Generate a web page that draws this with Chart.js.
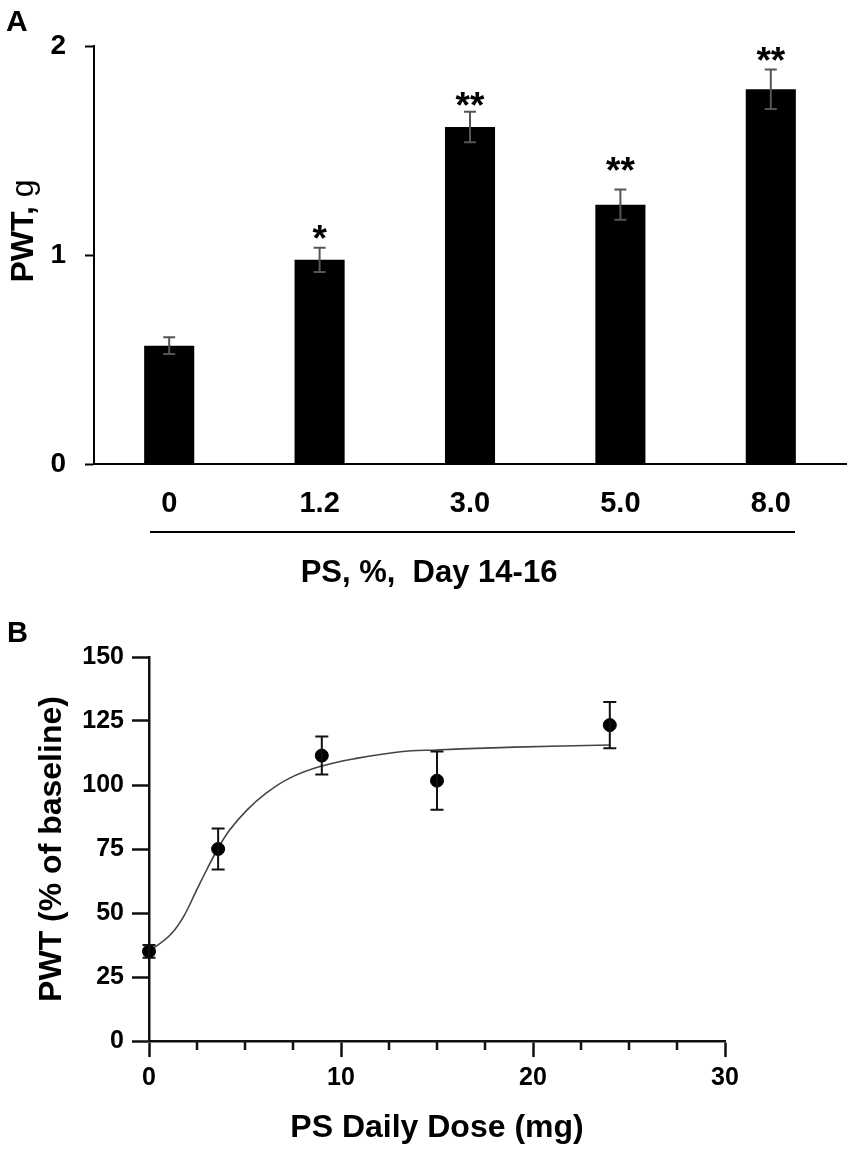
<!DOCTYPE html>
<html>
<head>
<meta charset="utf-8">
<script src="https://cdn.jsdelivr.net/npm/chart.js@4.4.1/dist/chart.umd.min.js"></script>
<style>
  html, body { margin: 0; padding: 0; background: #fff; }
  body { width: 853px; height: 1158px; position: relative; overflow: hidden; }
  .panel { position: absolute; left: 0; width: 853px; }
  #wrapA { top: 0; height: 600px; }
  #wrapB { top: 600px; height: 558px; }
</style>
</head>
<body>
<div class="panel" id="wrapA"><canvas id="chartA" width="853" height="600"></canvas></div>
<div class="panel" id="wrapB"><canvas id="chartB" width="853" height="558"></canvas></div>
<script>
// --- Panel A data (PWT by PS concentration) ---
const doseLabels = ["0", "1.2", "3.0", "5.0", "8.0"];
const pwtMeans = [0.566, 0.977, 1.612, 1.241, 1.793];
const pwtErrors = [0.04, 0.058, 0.073, 0.072, 0.095];
const sigMarks = ["", "*", "**", "**", "**"];
const sigLevels = [null, 1.12, 1.756, 1.445, 1.97]; // where the stars sit, in g

// --- Panel B data (dose response) ---
const dailyDose = [0, 3.6, 9, 15, 24];
const pwtPercent = [35, 75, 111.5, 101.7, 123.4];
const pwtPercentErr = [2.5, 8, 7.4, 11.4, 9];
// fitted curve
const fitDose = [0, 1.1, 1.8, 2.4, 3.0, 3.6, 4.2, 5.1, 6.1, 7.3, 8.9, 10.8, 13.1, 15, 19, 24];
const fitPwt = [35, 41.4, 48.6, 57.7, 66.8, 75.3, 82.4, 90.2, 96.8, 102.6, 107.2, 110.4, 113.0, 113.7, 114.8, 115.6];

const FONT = "'Liberation Sans', Arial, Helvetica, sans-serif";
Chart.defaults.font.family = FONT;
Chart.defaults.color = "#000";

// --- Panel A: error bars, stars, titles ---
const panelAExtras = {
  id: "panelAExtras",
  afterDatasetsDraw(chart) {
    const { ctx, scales: { x, y } } = chart;
    ctx.save();
    ctx.strokeStyle = "#555";
    ctx.lineWidth = 2;
    pwtMeans.forEach((m, i) => {
      const px = x.getPixelForValue(i);
      const top = y.getPixelForValue(m + pwtErrors[i]);
      const bot = y.getPixelForValue(m - pwtErrors[i]);
      ctx.beginPath();
      ctx.moveTo(px, top); ctx.lineTo(px, bot);
      ctx.moveTo(px - 6, top); ctx.lineTo(px + 6, top);
      ctx.moveTo(px - 6, bot); ctx.lineTo(px + 6, bot);
      ctx.stroke();
    });

    ctx.fillStyle = "#000";
    ctx.font = "bold 37px " + FONT;
    ctx.textAlign = "center";
    ctx.textBaseline = "alphabetic";
    sigMarks.forEach((s, i) => {
      if (!s) return;
      const px = x.getPixelForValue(i);
      const cy = y.getPixelForValue(sigLevels[i]);
      ctx.fillText(s, px, cy + 21);
    });
    ctx.restore();
  },
  afterDraw(chart) {
    const { ctx } = chart;
    ctx.save();
    ctx.fillStyle = "#000";
    ctx.strokeStyle = "#000";

    // panel letter
    ctx.font = "bold 30px " + FONT;
    ctx.textAlign = "left";
    ctx.textBaseline = "alphabetic";
    ctx.fillText("A", 6, 31);

    // line under the category labels
    ctx.lineWidth = 2;
    ctx.beginPath();
    ctx.moveTo(150, 532);
    ctx.lineTo(795, 532);
    ctx.stroke();

    // x title
    ctx.font = "bold 31px " + FONT;
    ctx.textAlign = "center";
    ctx.fillText("PS, %,  Day 14-16", 429, 582);

    // y title with mixed weights
    ctx.translate(33, 231);
    ctx.rotate(-Math.PI / 2);
    ctx.font = "bold 32px " + FONT;
    const boldPart = "PWT,";
    const wBold = ctx.measureText(boldPart).width;
    ctx.font = "32px " + FONT;
    const normPart = " g";
    const wNorm = ctx.measureText(normPart).width;
    const start = -(wBold + wNorm) / 2;
    ctx.textAlign = "left";
    ctx.font = "bold 32px " + FONT;
    ctx.fillText(boldPart, start, 0);
    ctx.font = "32px " + FONT;
    ctx.fillText(normPart, start + wBold, 0);
    ctx.restore();
  }
};

new Chart(document.getElementById("chartA"), {
  type: "bar",
  data: {
    labels: doseLabels,
    datasets: [{
      data: pwtMeans,
      backgroundColor: "#000",
      borderWidth: 0,
      categoryPercentage: 1,
      barPercentage: 0.333
    }]
  },
  options: {
    responsive: false,
    animation: false,
    layout: { padding: { top: 46, right: 7, left: 0, bottom: 0 } },
    plugins: { legend: { display: false }, tooltip: { enabled: false } },
    scales: {
      x: {
        grid: { display: false },
        border: { display: true, color: "#000", width: 2 },
        ticks: { font: { size: 29, weight: "bold" }, padding: 15, color: "#000" },
        afterFit(scale) { scale.height = 136; }
      },
      y: {
        min: 0,
        max: 2,
        ticks: { stepSize: 1, font: { size: 28, weight: "bold" }, padding: 19, color: "#000" },
        grid: { drawOnChartArea: false, tickLength: 9, tickColor: "#000", tickWidth: 2 },
        border: { display: true, color: "#000", width: 2 },
        afterFit(scale) { scale.width = 94; }
      }
    }
  },
  plugins: [panelAExtras]
});

// --- Panel B: error bars, minor ticks, letter ---
const panelBExtras = {
  id: "panelBExtras",
  afterDatasetsDraw(chart) {
    const { ctx, scales: { x, y } } = chart;
    ctx.save();
    ctx.strokeStyle = "#111";
    ctx.lineWidth = 2;
    dailyDose.forEach((d, i) => {
      const px = x.getPixelForValue(d);
      const top = y.getPixelForValue(pwtPercent[i] + pwtPercentErr[i]);
      const bot = y.getPixelForValue(pwtPercent[i] - pwtPercentErr[i]);
      ctx.beginPath();
      ctx.moveTo(px, top); ctx.lineTo(px, bot);
      ctx.moveTo(px - 6.5, top); ctx.lineTo(px + 6.5, top);
      ctx.moveTo(px - 6.5, bot); ctx.lineTo(px + 6.5, bot);
      ctx.stroke();
    });
    ctx.restore();
  },
  afterDraw(chart) {
    const { ctx, scales: { x } } = chart;
    ctx.save();
    // short minor ticks between the labelled ones
    ctx.strokeStyle = "#111";
    ctx.lineWidth = 2.5;
    x.ticks.forEach((t) => {
      if (t.value % 10 === 0) return;
      const px = x.getPixelForValue(t.value);
      ctx.beginPath();
      ctx.moveTo(px, x.top);
      ctx.lineTo(px, x.top + 9);
      ctx.stroke();
    });
    ctx.fillStyle = "#000";
    ctx.font = "bold 29px " + FONT;
    ctx.textAlign = "left";
    ctx.textBaseline = "alphabetic";
    ctx.fillText("B", 7, 42);
    ctx.restore();
  }
};

new Chart(document.getElementById("chartB"), {
  type: "scatter",
  data: {
    datasets: [
      {
        data: dailyDose.map((d, i) => ({ x: d, y: pwtPercent[i] })),
        backgroundColor: "#000",
        borderColor: "#000",
        pointRadius: 6.5,
        pointHoverRadius: 6.5,
        clip: false
      },
      {
        data: fitDose.map((d, i) => ({ x: d, y: fitPwt[i] })),
        showLine: true,
        borderColor: "#444",
        borderWidth: 1.6,
        pointRadius: 0,
        tension: 0.4,
        fill: false,
        clip: false
      }
    ]
  },
  options: {
    responsive: false,
    animation: false,
    layout: { padding: { top: 57, right: 128, left: 0, bottom: 0 } },
    plugins: { legend: { display: false }, tooltip: { enabled: false } },
    scales: {
      x: {
        type: "linear",
        min: 0,
        max: 30,
        ticks: {
          stepSize: 2.5,
          autoSkip: false,
          maxRotation: 0,
          font: { size: 25, weight: "bold" },
          padding: 6,
          color: "#000",
          callback: (v) => (v % 10 === 0 ? v : "")
        },
        grid: {
          drawOnChartArea: false,
          tickLength: 16,
          tickWidth: 2.5,
          tickColor: (c) => (c.tick && c.tick.value % 10 === 0 ? "#111" : "rgba(0,0,0,0)")
        },
        border: { display: true, color: "#111", width: 2.5 },
        title: {
          display: true,
          text: "PS Daily Dose (mg)",
          font: { size: 32, weight: "bold" },
          color: "#000",
          padding: { top: 0, bottom: 11 }
        },
        afterFit(scale) { scale.height = 117; }
      },
      y: {
        min: 0,
        max: 150,
        ticks: { stepSize: 25, font: { size: 25, weight: "bold" }, padding: 8, color: "#000" },
        grid: { drawOnChartArea: false, tickLength: 17, tickWidth: 2.5, tickColor: "#111" },
        border: { display: true, color: "#111", width: 2.5 },
        title: {
          display: true,
          text: "PWT (% of baseline)",
          font: { size: 32, weight: "bold" },
          color: "#000",
          padding: { top: 33, bottom: 0 }
        },
        afterFit(scale) { scale.width = 149; }
      }
    }
  },
  plugins: [panelBExtras]
});
</script>
</body>
</html>
